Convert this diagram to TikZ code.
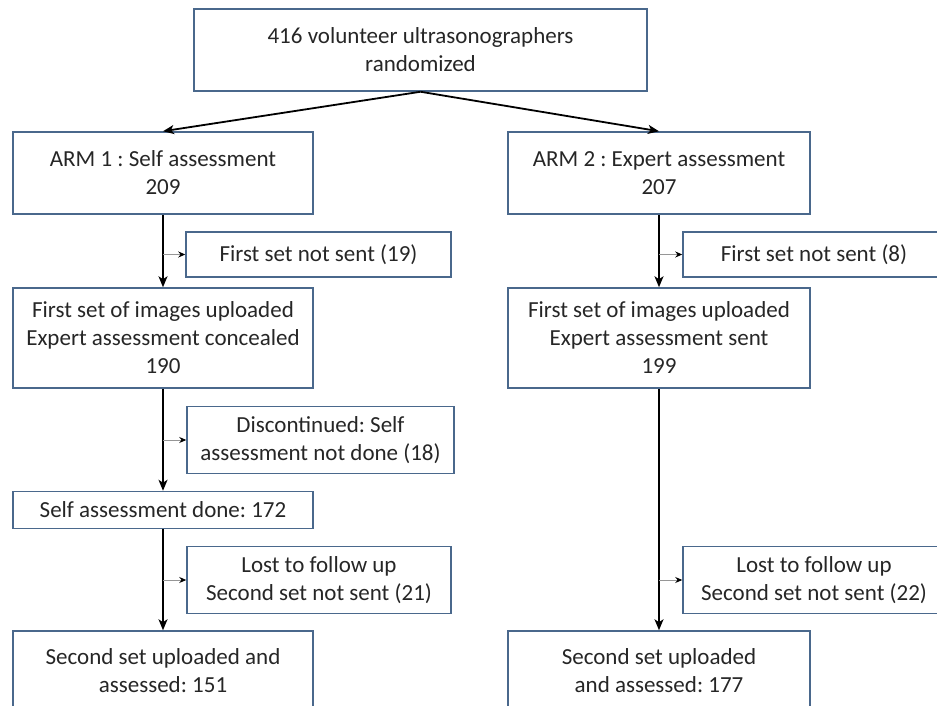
\documentclass[tikz,border=0pt]{standalone}
\usepackage{fontspec}
\setmainfont{Carlito}
\frenchspacing
\usetikzlibrary{arrows.meta,positioning}
\definecolor{boxedge}{RGB}{74,104,140}
\definecolor{sidegray}{RGB}{150,150,150}

\begin{document}
\begin{tikzpicture}[x=1pt,y=-1pt,
    box/.style={draw=boxedge,line width=1.5pt,align=center,inner sep=2pt,
      font=\fontsize{23}{28}\selectfont,text=black!85},
    wide/.style={box,minimum width=300,minimum height=#1},
    drop/.style={box,minimum height=#1},
    main/.style={-{Stealth[length=11pt,width=9pt,inset=3pt]},line width=1.8pt},
    side/.style={draw=sidegray,line width=0.9pt,-{Stealth[length=7pt,width=6pt,color=black]}}]
  \useasboundingbox (0,0) rectangle (937,706);
  \clip (0,0) rectangle (937,706);
  % randomisation
  \node[box,minimum width=453,minimum height=82] (all) at (420.5,50) {416 volunteer ultrasonographers\\randomized};
  % arm 1
  \node[wide=82] (arm1) at (163,173) {ARM 1 : Self assessment\\209};
  \node[drop=45,minimum width=265] (ns1) at (318.5,254.5) {First set not sent (19)};
  \node[wide=100] (up1) at (163,338) {First set of images uploaded\\Expert assessment concealed\\190};
  \node[drop=67,minimum width=267] (disc1) at (320.5,440) {Discontinued: Self\\assessment not done (18)};
  \node[wide=37] (done1) at (163,510) {Self assessment done: 172};
  \node[drop=67,minimum width=264] (lost1) at (319,580) {Lost to follow up\\Second set not sent (21)};
  \node[wide=80] (sec1) at (163,671) {Second set uploaded and\\assessed: 151};
  % arm 2
  \node[wide=82,minimum width=302] (arm2) at (659,173) {ARM 2 : Expert assessment\\207};
  \node[drop=45,minimum width=262] (ns2) at (814,254.5) {First set not sent (8)};
  \node[wide=100,minimum width=302] (up2) at (659,338) {First set of images uploaded\\Expert assessment sent\\199};
  \node[drop=67,minimum width=262] (lost2) at (814,580) {Lost to follow up\\Second set not sent (22)};
  \node[wide=80,minimum width=302] (sec2) at (659,671) {Second set uploaded\\and assessed: 177};

  \path[main]
    (all.south) edge (arm1.north)
                edge (arm2.north)
    (arm1) edge (up1)
    (up1) edge (done1)
    (done1) edge (sec1)
    (arm2) edge (up2)
    (up2) edge (sec2);
  \draw[side] (arm1.south |- ns1.west) -- (ns1.west);
  \draw[side] (up1.south |- disc1.west) -- (disc1.west);
  \draw[side] (done1.south |- lost1.west) -- (lost1.west);
  \draw[side] (arm2.south |- ns2.west) -- (ns2.west);
  \draw[side] (up2.south |- lost2.west) -- (lost2.west);
\end{tikzpicture}
\end{document}
